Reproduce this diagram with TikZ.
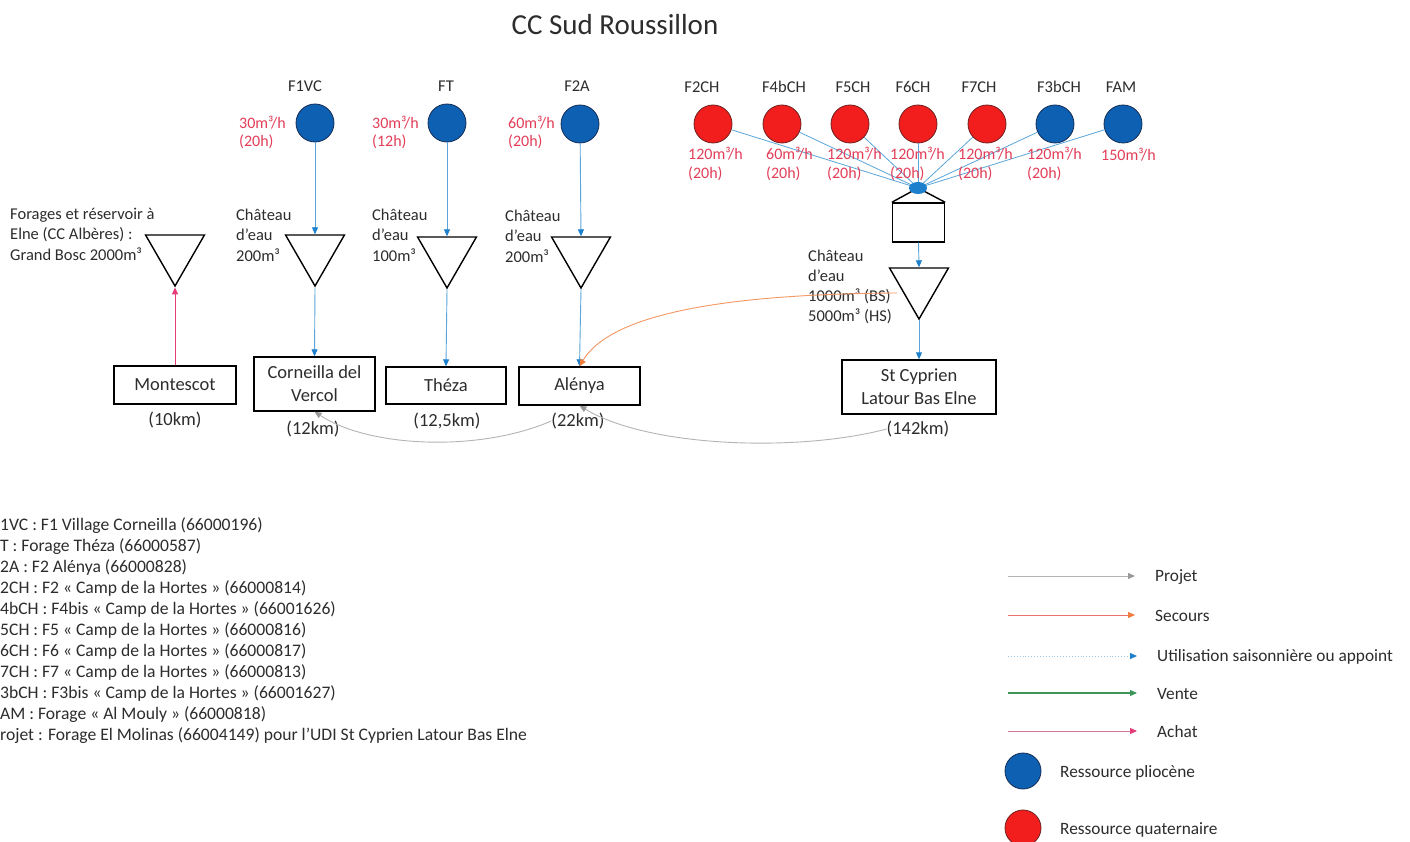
\documentclass[tikz,border=0pt]{standalone}
\usepackage{fontspec}
\setmainfont{Carlito}
\usetikzlibrary{arrows.meta,shapes.geometric}
\definecolor{txt}{RGB}{45,45,45}
\definecolor{pblue}{RGB}{14,96,178}
\definecolor{pblueb}{RGB}{20,45,85}
\definecolor{qred}{RGB}{242,30,30}
\definecolor{qredb}{RGB}{110,30,30}
\definecolor{flowred}{RGB}{226,62,88}
\definecolor{lblue}{RGB}{90,165,218}
\definecolor{tblue}{RGB}{28,128,205}
\definecolor{pgray}{RGB}{180,180,180}
\definecolor{sorange}{RGB}{240,125,60}
\definecolor{sred}{RGB}{235,115,105}
\definecolor{vgreen}{RGB}{60,150,90}
\definecolor{apink}{RGB}{228,60,120}
\definecolor{apinkl}{RGB}{210,120,150}
\tikzset{
  plio/.style={circle, draw=pblueb, fill=pblue, line width=0.8pt, minimum size=38, inner sep=0},
  quat/.style={circle, draw=qredb, fill=qred, line width=0.8pt, minimum size=38, inner sep=0},
  lbl/.style={font=\fontsize{16.5}{20.5}\selectfont, text=txt, inner sep=0, align=left},
  flow/.style={font=\fontsize{16}{18.5}\selectfont, text=flowred, inner sep=0, anchor=west, align=left},
  res/.style={regular polygon, regular polygon sides=3, shape border rotate=180, draw=black, line width=1.4pt, minimum size=68, inner sep=0},
  commune/.style={draw=black, line width=1.4pt, font=\fontsize{18.5}{23}\selectfont, text=txt, align=center, inner sep=0},
  km/.style={font=\fontsize{18.5}{22}\selectfont, text=txt, inner sep=0},
  supply/.style={draw=lblue, line width=0.9pt, -{Triangle[length=7,width=6,color=tblue]}},
  feed/.style={draw=lblue, line width=0.8pt},
  projet/.style={draw=pgray, line width=0.9pt, -{Triangle[length=7,width=6,color=pgray!85!black]}},
  secours/.style={draw=sorange!80!white, line width=0.9pt, -{Triangle[length=7,width=6,color=sorange]}},
  achat/.style={draw=apink, line width=0.9pt, -{Triangle[length=7,width=6,color=apink]}},
  leg/.style={lbl, anchor=west, font=\fontsize{17.3}{21}\selectfont},
}
\begin{document}
\begin{tikzpicture}[x=1pt,y=-1pt]
\useasboundingbox (0,0) rectangle (1410,842);
\fill[white] (0,0) rectangle (1410,842);

% title
\node[font=\fontsize{29}{34}\selectfont, text=txt, inner sep=0] (title) at (615,25) {CC Sud Roussillon};

% left resources
\node[lbl] (lf1vc) at (305,86) {F1VC};
\node[lbl] (lft) at (446,86) {FT};
\node[lbl] (lf2a) at (577,86) {F2A};
\node[plio] (f1vc) at (315,123) {};
\node[plio] (ft) at (447,123) {};
\node[plio] (f2a) at (580,124) {};
\node[flow] (q1) at (239,132.5) {30m³/h\\(20h)};
\node[flow] (q2) at (372,132.5) {30m³/h\\(12h)};
\node[flow] (q3) at (508,132.5) {60m³/h\\(20h)};

% reservoirs
\node[res] (gb) at (175,252) {};
\node[res] (t1) at (315,252) {};
\node[res] (t2) at (447,254) {};
\node[res] (t3) at (581,254) {};
\node[lbl, anchor=west] (lgb) at (10,234) {Forages et réservoir à\\Elne (CC Albères) :\\Grand Bosc 2000m³};
\node[lbl, anchor=west] (lt1) at (236,235) {Château\\d’eau\\200m³};
\node[lbl, anchor=west] (lt2) at (372,235) {Château\\d’eau\\100m³};
\node[lbl, anchor=west] (lt3) at (505,236) {Château\\d’eau\\200m³};

% communes
\node[commune, minimum width=122, minimum height=38] (mont) at (175,385) {Montescot};
\node[commune, minimum width=121, minimum height=54] (corn) at (314.5,384) {Corneilla del\\Vercol};
\node[commune, minimum width=120, minimum height=37] (theza) at (446,385.5) {Théza};
\node[commune, minimum width=121, minimum height=38] (alen) at (579.5,386) {Alénya};
\node[commune, minimum width=154, minimum height=54] (stcyp) at (919,387) {St Cyprien\\Latour Bas Elne};
\node[km] (km10) at (175,420) {(10km)};
\node[km] (km12) at (313,429) {(12km)};
\node[km] (km125) at (447,421) {(12,5km)};
\node[km] (km22) at (578,421) {(22km)};
\node[km] (km142) at (918,429) {(142km)};

% left connectors
\draw[supply] (f1vc) -- (t1.north);
\draw[supply] (t1.south) -- (corn.north);
\draw[supply] (ft) -- (t2.north);
\draw[supply] (t2.south) -- (theza.north);
\draw[supply] (f2a) -- (t3.north);
\draw[supply] (t3.south) -- (alen.north);
\draw[achat] (mont.north) -- (gb.south);

% right resources
\foreach \n/\x/\lx/\t in {l2ch/713/702/F2CH, l4bch/782/784/F4bCH, l5ch/850/853/F5CH, l6ch/918/913/F6CH, l7ch/987/979/F7CH, l3bch/1055/1059/F3bCH, lfam/1123/1121/FAM}
  \node[lbl] (\n) at (\lx,87) {\t};
\node[quat] (f2ch) at (713,124) {};
\node[quat] (f4bch) at (782,124) {};
\node[quat] (f5ch) at (850,124) {};
\node[quat] (f6ch) at (918,124) {};
\node[quat] (f7ch) at (987,124) {};
\node[plio] (f3bch) at (1055,124) {};
\node[plio] (fam) at (1123,124) {};

\coordinate (hub) at (918,188);
\foreach \c in {f2ch,f4bch,f5ch,f6ch,f7ch,f3bch,fam}
  \draw[feed] (\c) -- (hub);

\node[flow] (r1) at (688,164) {120m³/h\\(20h)};
\node[flow] (r2) at (766,164) {60m³/h\\(20h)};
\node[flow] (r3) at (827,164) {120m³/h\\(20h)};
\node[flow] (r4) at (890,164) {120m³/h\\(20h)};
\node[flow] (r5) at (958,164) {120m³/h\\(20h)};
\node[flow] (r6) at (1027,164) {120m³/h\\(20h)};
\node[flow, anchor=west] (r7) at (1101,155) {150m³/h};

% bache + chateau
\node[draw=black, line width=1.4pt, minimum width=52, minimum height=39, inner sep=0] (bache) at (918.5,222.5) {};
\draw[draw=black, line width=1.4pt] (bache.north west) -- (hub) -- (bache.north east);
\fill[tblue] (hub) ellipse (9 and 6);
\node[res] (t4) at (919,285) {};
\node[lbl, anchor=west, font=\fontsize{16.5}{20}\selectfont] (lt4) at (808,287) {Château\\d’eau\\1000m³ (BS)\\5000m³ (HS)};
\draw[supply] (bache.south) -- (t4.north);
\draw[supply] (t4.south) -- (stcyp.north);

% secours and projet curves
\coordinate (secstart) at (897,293);
\draw[secours] (secstart) .. controls (720,294) and (610,315) .. (alen.north);
\draw[projet] (km22.west) .. controls (480,452) and (370,448) .. (corn.south);
\draw[projet] (km142.west) .. controls (800,452) and (650,448) .. (alen.south);

% definitions
\foreach \t [count=\i] in {{1VC : F1 Village Corneilla (66000196)},
  {T : Forage Théza (66000587)},
  {2A : F2 Alénya (66000828)},
  {2CH : F2 « Camp de la Hortes » (66000814)},
  {4bCH : F4bis « Camp de la Hortes » (66001626)},
  {5CH : F5 « Camp de la Hortes » (66000816)},
  {6CH : F6 « Camp de la Hortes » (66000817)},
  {7CH : F7 « Camp de la Hortes » (66000813)},
  {3bCH : F3bis « Camp de la Hortes » (66001627)},
  {AM : Forage « Al Mouly » (66000818)},
  {rojet : Forage El Molinas (66004149) pour l’UDI St Cyprien Latour Bas Elne}}
  \node[lbl, font=\fontsize{17.6}{21}\selectfont, anchor=base west] (def\i) at (0,530+21*\i-21) {\t};

% legend
\coordinate (la1) at (1008,576); \coordinate (lb1) at (1135,576);
\coordinate (la2) at (1008,615); \coordinate (lb2) at (1135,615);
\coordinate (la3) at (1008,656); \coordinate (lb3) at (1137,656);
\coordinate (la4) at (1008,693); \coordinate (lb4) at (1137,693);
\coordinate (la5) at (1008,731); \coordinate (lb5) at (1137,731);
\draw[projet] (la1) -- (lb1);
\draw[draw=sred, line width=0.9pt, -{Triangle[length=7,width=6,color=sorange]}] (la2) -- (lb2);
\draw[draw=lblue!60!white, line width=0.9pt, dotted, -{Triangle[length=7,width=6,color=tblue]}] (la3) -- (lb3);
\draw[draw=vgreen, line width=1.1pt, -{Triangle[length=7,width=6,color=vgreen]}] (la4) -- (lb4);
\draw[draw=apinkl, line width=0.9pt, -{Triangle[length=7,width=6,color=apink]}] (la5) -- (lb5);
\node[leg] (lg1) at (1155,577) {Projet};
\node[leg] (lg2) at (1155,616) {Secours};
\node[leg] (lg3) at (1157,657) {Utilisation saisonnière ou appoint};
\node[leg] (lg4) at (1157,694) {Vente};
\node[leg] (lg5) at (1157,732) {Achat};
\node[plio, minimum size=36] (lgp) at (1023,771) {};
\node[quat, minimum size=36] (lgq) at (1023,828) {};
\node[leg] (lg6) at (1060,773) {Ressource pliocène};
\node[leg] (lg7) at (1060,830) {Ressource quaternaire};
\end{tikzpicture}
\end{document}
